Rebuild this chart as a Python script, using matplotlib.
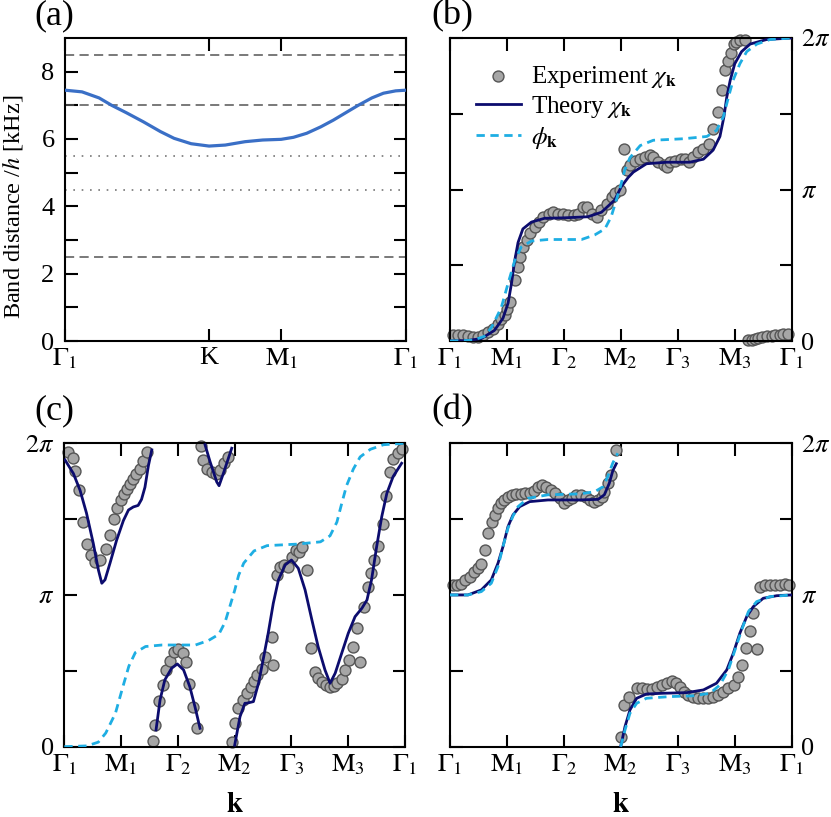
import numpy as np
import matplotlib
matplotlib.use("Agg")
import matplotlib.pyplot as plt

plt.rcParams['font.family'] = ['Liberation Serif', 'DejaVu Serif']
plt.rcParams['mathtext.fontset'] = 'stix'

# ---------------- panel (a): band distance along Gamma-K-M-Gamma ----------------
path_a = [0.0, 0.05, 0.10, 0.137, 0.18, 0.23, 0.28, 0.32, 0.37, 0.4226, 0.47, 0.528,
          0.58, 0.634, 0.67, 0.709, 0.75, 0.787, 0.83, 0.86, 0.90, 0.934, 0.97, 1.0]
gap_a = [7.45, 7.40, 7.22, 7.0, 6.78, 6.51, 6.22, 6.02, 5.86, 5.79, 5.82, 5.92,
         5.97, 5.99, 6.05, 6.17, 6.36, 6.56, 6.82, 7.0, 7.22, 7.36, 7.43, 7.45]
ticks_a = [0.0, 0.4226, 0.634, 1.0]
labels_a = [r'$\Gamma_1$', 'K', r'$\mathrm{M}_1$', r'$\Gamma_1$']
dashed_levels = [8.5, 7.0, 2.5]
dotted_levels = [5.5, 4.5]

# ---------------- phase panels (values in units of pi) ----------------
k_labels = [r'$\Gamma_1$', r'$\mathrm{M}_1$', r'$\Gamma_2$', r'$\mathrm{M}_2$',
            r'$\Gamma_3$', r'$\mathrm{M}_3$', r'$\Gamma_1$']

# (b) theory chi
theo_b_x = [0, 0.3, 0.55, 0.78, 0.93, 1.02, 1.08, 1.136, 1.195, 1.28, 1.43, 1.66, 2.0,
            2.42, 2.66, 2.89, 3.01, 3.13, 3.22, 3.45, 3.80, 4.21, 4.45, 4.62, 4.74,
            4.81, 4.86, 4.92, 5.0, 5.12, 5.27, 5.56, 6.0]
theo_b_y = [0, 0.003, 0.016, 0.07, 0.15, 0.25, 0.38, 0.53, 0.65, 0.74, 0.785, 0.81, 0.813,
            0.82, 0.85, 0.93, 1.02, 1.08, 1.115, 1.17, 1.18, 1.18, 1.20, 1.26, 1.35,
            1.48, 1.61, 1.72, 1.83, 1.91, 1.96, 1.99, 2.0]

# (b), (c) phi
phi_x = [0, 0.4, 0.6, 0.73, 0.90, 1.02, 1.136, 1.25, 1.43, 1.72, 2.31, 2.54, 2.72, 2.83,
         2.92, 3.0, 3.07, 3.16, 3.34, 3.57, 4.10, 4.51, 4.68, 4.80, 4.89, 4.97, 5.09,
         5.21, 5.39, 5.62, 6.0]
phi_y = [0, 0.005, 0.03, 0.09, 0.22, 0.38, 0.53, 0.62, 0.66, 0.67, 0.67, 0.70, 0.74, 0.82,
         0.93, 1.03, 1.13, 1.21, 1.29, 1.325, 1.335, 1.35, 1.39, 1.48, 1.61, 1.72, 1.83,
         1.91, 1.96, 1.99, 2.0]

# (b) experiment
exp_b_x = [0.05, 0.14, 0.23, 0.32, 0.40, 0.49, 0.58, 0.67, 0.76, 0.84, 0.90, 0.96, 1.0,
           1.054, 1.14, 1.20, 1.23, 1.29, 1.35, 1.405, 1.49, 1.56, 1.64, 1.73, 1.81,
           1.90, 1.99, 2.08, 2.17, 2.25, 2.34, 2.40, 2.49, 2.59, 2.66, 2.75, 2.84, 2.90,
           2.99, 3.06, 3.10, 3.16, 3.25, 3.34, 3.42, 3.51, 3.57, 3.66, 3.75, 3.81, 3.86,
           3.95, 4.05, 4.13, 4.19, 4.27, 4.36, 4.45, 4.54, 4.62, 4.71, 4.77, 4.83, 4.89,
           4.93, 4.98, 5.03, 5.09, 5.18, 5.24, 5.30, 5.36, 5.41, 5.47, 5.56, 5.65, 5.71,
           5.79, 5.85, 5.94]
exp_b_y = [0.038, 0.038, 0.038, 0.031, 0.026, 0.026, 0.038, 0.06, 0.08, 0.114, 0.147, 0.17,
           0.21, 0.257, 0.40, 0.49, 0.555, 0.62, 0.665, 0.71, 0.75, 0.785, 0.82, 0.84,
           0.85, 0.84, 0.84, 0.83, 0.83, 0.84, 0.885, 0.885, 0.84, 0.82, 0.863, 0.907,
           0.95, 0.98, 0.995, 1.27, 1.127, 1.16, 1.19, 1.20, 1.215, 1.23, 1.215, 1.18,
           1.16, 1.15, 1.18, 1.19, 1.20, 1.20, 1.18, 1.215, 1.25, 1.27, 1.30, 1.40,
           1.51, 1.655, 1.79, 1.85, 1.90, 1.96, 1.975, 1.985, 1.99, 0.005, 0.009, 0.016,
           0.022, 0.027, 0.031, 0.031, 0.038, 0.042, 0.049, 0.049]

# (c) theory chi, four branches
theo_c1_x = [0.012, 0.16, 0.277, 0.39, 0.51, 0.60, 0.66, 0.717, 0.805, 0.92, 1.04, 1.13,
             1.215, 1.30, 1.36, 1.42, 1.48, 1.54]
theo_c1_y = [1.89, 1.80, 1.69, 1.54, 1.34, 1.165, 1.077, 1.10, 1.21, 1.36, 1.49, 1.56,
             1.58, 1.59, 1.63, 1.71, 1.85, 1.956]
theo_c2_x = [1.615, 1.686, 1.77, 1.89, 1.99, 2.10, 2.21, 2.30, 2.39]
theo_c2_y = [0.11, 0.308, 0.44, 0.517, 0.545, 0.506, 0.395, 0.264, 0.121]
theo_c3_x = [2.478, 2.566, 2.684, 2.725, 2.80, 2.948]
theo_c3_y = [1.99, 1.879, 1.745, 1.72, 1.80, 1.967]
theo_c4_x = [3.0, 3.094, 3.18, 3.21, 3.33, 3.42, 3.50, 3.59, 3.68, 3.77, 3.89, 4.0,
             4.12, 4.24, 4.36, 4.47, 4.59, 4.68, 4.77, 4.885, 5.0, 5.12, 5.24, 5.33,
             5.41, 5.50, 5.59, 5.68, 5.79, 5.94]
theo_c4_y = [0.01, 0.198, 0.286, 0.286, 0.297, 0.418, 0.571, 0.747, 0.945, 1.099, 1.198,
             1.23, 1.176, 1.033, 0.835, 0.659, 0.506, 0.418, 0.484, 0.616, 0.747, 0.857,
             0.912, 0.967, 1.099, 1.318, 1.516, 1.67, 1.78, 1.868]

# (c) experiment
exp_c_x = [0.071, 0.147, 0.188, 0.265, 0.324, 0.406, 0.464, 0.541, 0.629, 0.734, 0.805,
           0.875, 0.934, 0.993, 1.051, 1.098, 1.157, 1.204, 1.263, 1.333, 1.392, 1.462,
           1.556, 1.603, 1.674, 1.732, 1.791, 1.862, 1.932, 2.008, 2.085, 2.143, 2.20,
           2.26, 2.33,
           2.40, 2.45, 2.52, 2.595, 2.67, 2.74, 2.81, 2.89,
           2.948, 3.006, 3.065, 3.14, 3.21, 3.28, 3.34, 3.40, 3.476, 3.53, 3.65, 3.68,
           3.74, 3.80, 3.87, 3.945, 4.005, 4.08, 4.14, 4.18, 4.27,
           4.34, 4.415, 4.47, 4.53, 4.61, 4.68, 4.75, 4.81, 4.885, 4.94, 5.02, 5.08,
           5.15, 5.21, 5.27, 5.34, 5.40, 5.455, 5.53, 5.61, 5.665, 5.736, 5.794, 5.87,
           5.94]
exp_c_y = [1.945, 1.90, 1.82, 1.69, 1.483, 1.336, 1.264, 1.22, 1.23, 1.30, 1.395,
           1.50, 1.57, 1.626, 1.666, 1.697, 1.73, 1.763, 1.80, 1.83, 1.88, 1.94,
           0.038, 0.143, 0.303, 0.407, 0.506, 0.567, 0.626, 0.642, 0.62, 0.56, 0.413,
           0.264, 0.121,
           1.98, 1.89, 1.83, 1.81, 1.80, 1.824, 1.87, 1.91,
           0.033, 0.154, 0.257, 0.308, 0.352, 0.396, 0.435, 0.473, 0.51, 0.593, 0.725,
           0.538, 1.132, 1.187, 1.198, 1.187, 1.253, 1.297, 1.285, 1.318, 1.165,
           0.649, 0.494, 0.451, 0.428, 0.407, 0.391, 0.40, 0.418, 0.444, 0.506, 0.571,
           0.659, 0.78, 0.56, 0.923, 1.055, 1.143, 1.231, 1.323, 1.468, 1.653, 1.813,
           1.894, 1.938, 1.96]

# (d) theory chi and phi, two branches each
theo_d1_x = [0, 0.316, 0.55, 0.725, 0.843, 0.93, 1.018, 1.106, 1.224, 1.40, 1.72, 2.27,
             2.60, 2.71, 2.797, 2.86, 2.92]
theo_d1_y = [1.0, 1.0, 1.033, 1.099, 1.209, 1.318, 1.45, 1.527, 1.582, 1.615, 1.626,
             1.626, 1.63, 1.66, 1.736, 1.82, 1.865]
theo_d2_x = [2.997, 3.073, 3.16, 3.278, 3.45, 3.745, 4.156, 4.45, 4.68, 4.86, 4.975, 5.09,
             5.21, 5.326, 5.50, 5.737, 6.0]
theo_d2_y = [0, 0.132, 0.242, 0.319, 0.347, 0.352, 0.356, 0.374, 0.418, 0.506, 0.616,
             0.748, 0.857, 0.923, 0.978, 0.995, 1.0]
phi_d1_x = [0, 0.316, 0.55, 0.725, 0.843, 0.93, 1.018, 1.106, 1.194, 1.37, 1.72, 2.27,
            2.54, 2.69, 2.77, 2.857, 2.945]
phi_d1_y = [1.0, 1.0, 1.022, 1.077, 1.187, 1.318, 1.44, 1.52, 1.582, 1.637, 1.66, 1.666,
            1.68, 1.714, 1.78, 1.868, 1.934]
phi_d2_x = [2.997, 3.073, 3.16, 3.278, 3.45, 3.863, 4.27, 4.565, 4.74, 4.887, 5.004, 5.12,
            5.24, 5.385, 5.62, 6.0]
phi_d2_y = [0, 0.11, 0.22, 0.286, 0.319, 0.33, 0.335, 0.352, 0.407, 0.506, 0.637, 0.769,
            0.89, 0.956, 0.989, 1.0]

# (d) experiment
exp_d_x = [0.053, 0.129, 0.199, 0.269, 0.345, 0.421, 0.492, 0.55, 0.609, 0.667, 0.737,
           0.796, 0.843, 0.89, 0.948, 1.018, 1.089, 1.165, 1.24, 1.32, 1.40, 1.475, 1.545,
           1.615, 1.69, 1.78, 1.85, 1.926, 2.0, 2.07, 2.14, 2.22, 2.295, 2.38, 2.45, 2.53,
           2.60, 2.67, 2.71, 2.78, 2.83, 2.92,
           2.997, 3.055, 3.149, 3.278, 3.366, 3.453, 3.541, 3.63, 3.717, 3.805, 3.892,
           3.968, 4.04, 4.11, 4.185, 4.273, 4.36, 4.448, 4.536, 4.624, 4.712, 4.80, 4.887,
           4.987, 5.05, 5.13, 5.19, 5.27, 5.326, 5.385, 5.443, 5.53, 5.62, 5.707, 5.795,
           5.88, 5.96]
exp_d_y = [1.066, 1.066, 1.072, 1.099, 1.121, 1.154, 1.176, 1.204, 1.297, 1.407, 1.483,
           1.527, 1.571, 1.604, 1.626, 1.644, 1.659, 1.666, 1.666, 1.67, 1.674, 1.688,
           1.714, 1.725, 1.714, 1.692, 1.67, 1.637, 1.608, 1.626, 1.637, 1.659, 1.659,
           1.648, 1.626, 1.615, 1.626, 1.648, 1.681, 1.736, 1.791, 1.955,
           0.066, 0.275, 0.33, 0.385, 0.385, 0.38, 0.38, 0.39, 0.407, 0.418, 0.433,
           0.418, 0.39, 0.363, 0.341, 0.33, 0.319, 0.319, 0.322, 0.33, 0.341, 0.363,
           0.385, 0.407, 0.457, 0.539, 0.649, 0.763, 0.879, 0.644, 1.055, 1.066, 1.066,
           1.066, 1.066, 1.07, 1.066]

NAVY = '#0c0c6e'
CYAN = '#1eaee3'
BLUE = '#3a6fc6'
FS = 19

fig = plt.figure(figsize=(8.31, 8.17), dpi=100)
ax_a = fig.add_axes([0.0782, 0.5826, 0.4103, 0.3709])
ax_b = fig.add_axes([0.5415, 0.5826, 0.4112, 0.3709])
ax_c = fig.add_axes([0.0774, 0.0861, 0.4100, 0.3714])
ax_d = fig.add_axes([0.5415, 0.0861, 0.4112, 0.3714])


def frame(ax):
    for s in ax.spines.values():
        s.set_linewidth(1.5)
    ax.tick_params(which='both', direction='in', length=9, width=1.5,
                   top=True, bottom=True, left=True, right=True, labelsize=FS)
    ax.tick_params(axis='x', pad=4)
    ax.tick_params(axis='y', pad=7.5)


# panel (a)
for lev in dashed_levels:
    ax_a.axhline(lev, color='#555555', lw=1.1, dashes=(6, 3.5))
for lev in dotted_levels:
    ax_a.axhline(lev, color='#777777', lw=1.2, dashes=(1, 4))
ax_a.plot(path_a, gap_a, color=BLUE, lw=2.3, zorder=3)
ax_a.set_xlim(0, 1)
ax_a.set_ylim(0, 9)
ax_a.set_xticks(ticks_a)
ax_a.set_xticklabels(labels_a)
ax_a.set_yticks([0, 2, 4, 6, 8])
ax_a.set_yticks([1, 3, 5, 7], minor=True)
ax_a.set_ylabel(r'Band distance /$h$ [kHz]', fontsize=17.5)
ax_a.yaxis.set_label_coords(-0.117, 0.442)
frame(ax_a)


def phase_axes(ax, labels_right):
    ax.set_xlim(0, 6)
    ax.set_ylim(0, 2)
    ax.set_xticks(range(7))
    ax.set_xticklabels(k_labels)
    ax.set_yticks([0, 1, 2])
    ax.set_yticklabels(['0', r'$\pi$', r'$2\pi$'])
    ax.set_yticks([0.5, 1.5], minor=True)
    frame(ax)
    if labels_right:
        ax.tick_params(axis='y', labelleft=False, labelright=True, pad=7)


mk = dict(s=62, facecolor='#a6a6a6', edgecolor='#555555', linewidths=1.0,
          clip_on=False, zorder=2)

# panel (b)
ax_b.scatter(exp_b_x, exp_b_y, label=r'Experiment $\chi_{\mathbf{k}}$', **mk)
ax_b.plot(theo_b_x, theo_b_y, color=NAVY, lw=2.0, zorder=3,
          label=r'Theory $\chi_{\mathbf{k}}$')
ax_b.plot(phi_x, phi_y, color=CYAN, lw=2.0, dashes=(3, 2), zorder=3,
          label=r'$\phi_{\mathbf{k}}$')
phase_axes(ax_b, True)
ax_b.legend(loc='upper left', bbox_to_anchor=(0.075, 0.915), frameon=False,
            fontsize=18, handlelength=1.8, handletextpad=0.4, labelspacing=0.18,
            borderaxespad=0.0, borderpad=0.0, scatterpoints=1)

# panel (c)
ax_c.scatter(exp_c_x, exp_c_y, **mk)
for xs, ys in [(theo_c1_x, theo_c1_y), (theo_c2_x, theo_c2_y),
               (theo_c3_x, theo_c3_y), (theo_c4_x, theo_c4_y)]:
    ax_c.plot(xs, ys, color=NAVY, lw=2.0, zorder=3)
ax_c.plot(phi_x, phi_y, color=CYAN, lw=2.0, dashes=(3, 2), zorder=3)
phase_axes(ax_c, False)
ax_c.set_xlabel(r'$\mathbf{k}$', fontsize=21, labelpad=11)

# panel (d)
ax_d.scatter(exp_d_x, exp_d_y, **mk)
for xs, ys in [(theo_d1_x, theo_d1_y), (theo_d2_x, theo_d2_y)]:
    ax_d.plot(xs, ys, color=NAVY, lw=2.0, zorder=3)
for xs, ys in [(phi_d1_x, phi_d1_y), (phi_d2_x, phi_d2_y)]:
    ax_d.plot(xs, ys, color=CYAN, lw=2.0, dashes=(3, 2), zorder=4)
phase_axes(ax_d, True)
ax_d.set_xlabel(r'$\mathbf{k}$', fontsize=21, labelpad=11)

for txt, x, y in [('(a)', 54, 16), ('(b)', 452, 16), ('(c)', 54, 411), ('(d)', 452, 411)]:
    fig.text(x / 831, 1 - y / 817, txt, fontsize=26, ha='center', va='center')

fig.savefig('out.png', dpi=100)
